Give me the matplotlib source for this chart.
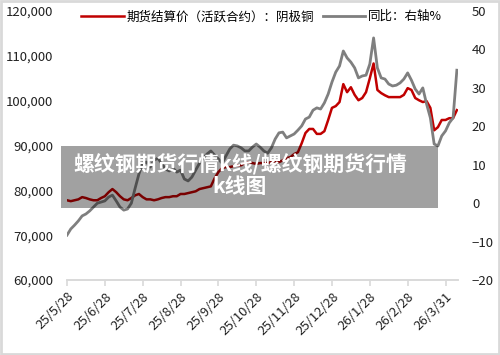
import matplotlib
matplotlib.use('Agg')
import matplotlib.pyplot as plt
from matplotlib.patches import Rectangle
from matplotlib.ticker import FuncFormatter, MultipleLocator

plt.rcParams['font.family'] = ['Noto Sans CJK SC', 'DejaVu Sans']

# data: one point every ~2 trading days, tick label every 10 points
tick_labels = ['25/5/28', '25/6/28', '25/7/28', '25/8/28', '25/9/28', '25/10/28',
               '25/11/28', '25/12/28', '26/1/28', '26/2/28', '26/3/31']

price = [77800, 77600, 77800, 78000, 78500, 78300, 78000, 77800, 77800, 78300,
         78700, 79600, 80300, 79600, 78700, 78000, 77800, 78300, 78900, 79200,
         78500, 78000, 78000, 77800, 78000, 78300, 78500, 78500, 78700, 78700,
         79200, 79200, 79400, 79600, 79800, 80300, 80500, 80700, 80900, 82700,
         84100, 85000, 85200, 85200, 85400, 85600, 85600, 86100, 86300, 86100,
         85900, 86100, 86100, 86100, 86300, 86500, 86300, 86700, 87200, 87400,
         88100, 88500, 90500, 92800, 93700, 93700, 92600, 92600, 93200, 95700,
         98400, 98800, 99700, 103700, 101900, 103000, 101300, 100100, 100600, 101900,
         105000, 108300, 102400, 101700, 101200, 100800, 100800, 100800, 100800, 101300,
         102800, 102400, 100600, 100100, 99700, 99900, 98400, 93400, 94100, 95700,
         95700, 96100, 96100, 97900]

yoy = [-8.3, -6.7, -5.7, -4.6, -3.3, -2.8, -2.0, -1.0, 0.0, 0.3,
       0.6, 1.6, 2.1, 0.6, -1.0, -1.8, -1.5, 0.0, 3.9, 7.6,
       10.4, 10.7, 9.4, 11.2, 11.7, 10.4, 8.9, 8.4, 9.1, 8.1,
       8.6, 6.3, 5.8, 6.8, 8.6, 10.4, 11.7, 12.8, 13.6, 12.5,
       11.5, 10.4, 12.3, 14.1, 15.1, 14.9, 14.4, 13.6, 13.6, 14.6,
       15.4, 14.6, 13.6, 13.0, 14.4, 16.7, 18.3, 18.5, 17.0, 17.5,
       18.0, 19.0, 20.1, 21.9, 22.4, 24.2, 24.8, 24.5, 26.1, 28.4,
       31.5, 34.1, 35.7, 39.6, 37.8, 36.7, 35.2, 32.6, 33.1, 33.3,
       36.2, 43.0, 35.2, 32.6, 32.3, 31.0, 30.5, 30.7, 31.3, 32.3,
       33.9, 32.0, 29.7, 28.4, 30.0, 25.8, 22.2, 15.4, 14.9, 17.5,
       18.8, 20.9, 22.2, 34.6]

x = list(range(len(price)))

fig = plt.figure(figsize=(5, 3.55), dpi=100)
ax = fig.add_axes([0.134, 0.211, 0.782, 0.758])
ax2 = ax.twinx()

l1, = ax.plot(x, price, color='#c00000', lw=1.8, label='期货结算价（活跃合约）：阴极铜')
l2, = ax2.plot(x, yoy, color='#7f7f7f', lw=2.0, label='同比：右轴%')

ax.set_xlim(0, 103.3)
ax.set_ylim(60000, 120000)
ax.yaxis.set_major_locator(MultipleLocator(10000))
ax.yaxis.set_major_formatter(FuncFormatter(lambda v, p: f'{int(v):,}'))
ax2.set_ylim(-20, 50)
ax2.yaxis.set_major_locator(MultipleLocator(10))

ax.set_xticks(range(0, 101, 10))
ax.set_xticklabels(tick_labels, rotation=45, ha='right', rotation_mode='anchor')

for a in (ax, ax2):
    for s in ('top', 'left', 'right'):
        a.spines[s].set_visible(False)
    a.spines['bottom'].set_color('#d9d9d9')
    a.spines['bottom'].set_linewidth(1.2)
ax.tick_params(axis='y', length=0, pad=10, labelsize=9.5, colors='#222222')
ax2.tick_params(axis='y', length=0, pad=10, labelsize=9.5, colors='#222222')
ax.tick_params(axis='x', length=4, color='#d9d9d9', width=1.2, pad=3,
               labelsize=9.5, labelcolor='#222222')

fig.legend(handles=[l1, l2], loc='center', bbox_to_anchor=(0.523, 0.953), ncol=2,
           frameon=False, fontsize=9, handlelength=3.4, handletextpad=0.2,
           columnspacing=0.7)

# watermark banner
fig.add_artist(Rectangle((61 / 500, 1 - 208 / 355), 377 / 500, 62 / 355,
                         transform=fig.transFigure, facecolor='black', alpha=0.37,
                         edgecolor='none', zorder=5))
fig.text(240 / 500, 1 - 175 / 355, '螺纹钢期货行情k线/螺纹钢期货行情\nk线图',
         ha='center', va='center', color='white', fontsize=15, fontweight='bold',
         linespacing=1.1, zorder=6)

# outer border
fig.add_artist(Rectangle((0.002, 0.003), 0.996, 0.994, transform=fig.transFigure,
                         facecolor='none', edgecolor='#d9d9d9', lw=2, zorder=7))

fig.savefig('out.png', dpi=100, facecolor='white')
